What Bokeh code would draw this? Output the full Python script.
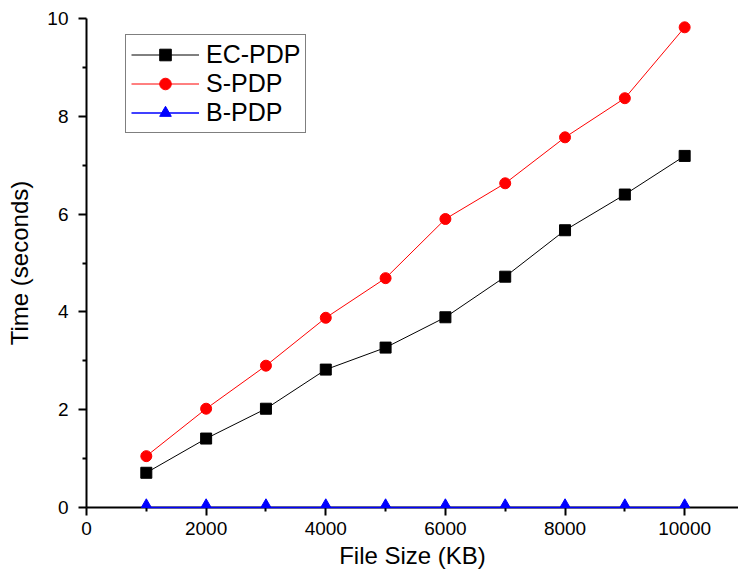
from bokeh.plotting import figure
from bokeh.models import FixedTicker, Range1d, Legend, LegendItem, ColumnDataSource
from bokeh.transform import dodge
from bokeh.embed import file_html
from bokeh.resources import INLINE

file_size = [1000, 2000, 3000, 4000, 5000, 6000, 7000, 8000, 9000, 10000]
ec_pdp = [0.71, 1.41, 2.02, 2.82, 3.27, 3.89, 4.72, 5.67, 6.40, 7.19]
s_pdp = [1.05, 2.02, 2.90, 3.88, 4.69, 5.90, 6.63, 7.57, 8.37, 9.82]
b_pdp = [0.0, 0.0, 0.0, 0.0, 0.0, 0.0, 0.0, 0.0, 0.0, 0.0]

x_ticks = [0, 2000, 4000, 6000, 8000, 10000]
x_minor = [1000, 3000, 5000, 7000, 9000]
y_ticks = [0, 2, 4, 6, 8, 10]
y_minor = [1, 3, 5, 7, 9]

FONT = "Liberation Sans"

src = ColumnDataSource(data=dict(x=file_size, ec=ec_pdp, s=s_pdp, b=b_pdp))

p = figure(width=738, height=586, output_backend="svg", toolbar_location=None,
           x_range=Range1d(0, 10900), y_range=Range1d(0, 10),
           min_border_left=86, min_border_right=0, min_border_top=18,
           min_border_bottom=79)
p.outline_line_color = None
p.xgrid.visible = False
p.ygrid.visible = False
p.background_fill_color = "white"

for ax in (p.xaxis[0], p.yaxis[0]):
    ax.axis_line_width = 2
    ax.axis_line_color = "black"
    ax.major_tick_line_width = 2
    ax.minor_tick_line_width = 2
    ax.major_tick_out = 8
    ax.major_tick_in = 0
    ax.minor_tick_out = 4
    ax.minor_tick_in = 0
    ax.major_label_text_font = FONT
    ax.major_label_text_font_size = "19px"
    ax.major_label_text_color = "black"
    ax.axis_label_text_font = FONT
    ax.axis_label_text_font_size = "24px"
    ax.axis_label_text_font_style = "normal"
    ax.axis_label_text_color = "black"

p.xaxis[0].ticker = FixedTicker(ticks=x_ticks, minor_ticks=x_minor)
p.yaxis[0].ticker = FixedTicker(ticks=y_ticks, minor_ticks=y_minor)
p.xaxis[0].axis_label = "File Size (KB)"
p.yaxis[0].axis_label = "Time (seconds)"
p.xaxis[0].major_label_standoff = 6
p.yaxis[0].major_label_standoff = 10
p.xaxis[0].axis_label_standoff = 4
p.yaxis[0].axis_label_standoff = 11

l1 = p.line("x", "ec", source=src, line_color="black", line_width=1)
m1 = p.scatter("x", "ec", source=src, marker="square", size=11, fill_color="black", line_color="black")
l2 = p.line("x", "s", source=src, line_color="#ff0000", line_width=1)
m2 = p.scatter("x", "s", source=src, marker="circle", size=11, fill_color="#ff0000", line_color="#ff0000")
l3 = p.line("x", "b", source=src, line_color="#0000ff", line_width=1.5, level="overlay")
m3 = p.scatter("x", dodge("b", 0.06, range=p.y_range), source=src, marker="triangle", size=10,
               fill_color="#0000ff", line_color="#0000ff", level="overlay")

legend = Legend(items=[
    LegendItem(label="EC-PDP", renderers=[l1, m1]),
    LegendItem(label="S-PDP", renderers=[l2, m2]),
    LegendItem(label="B-PDP", renderers=[l3, m3]),
], location=(39, 374))
legend.padding = 5
legend.spacing = 0
legend.margin = 0
legend.glyph_width = 68
legend.glyph_height = 29
legend.label_height = 29
legend.label_standoff = 7
legend.label_text_font = FONT
legend.label_text_font_size = "25px"
legend.label_text_color = "black"
legend.border_line_color = "black"
legend.border_line_width = 1
legend.background_fill_alpha = 1
p.add_layout(legend)

open("out.html", "w").write(file_html(p, INLINE))
